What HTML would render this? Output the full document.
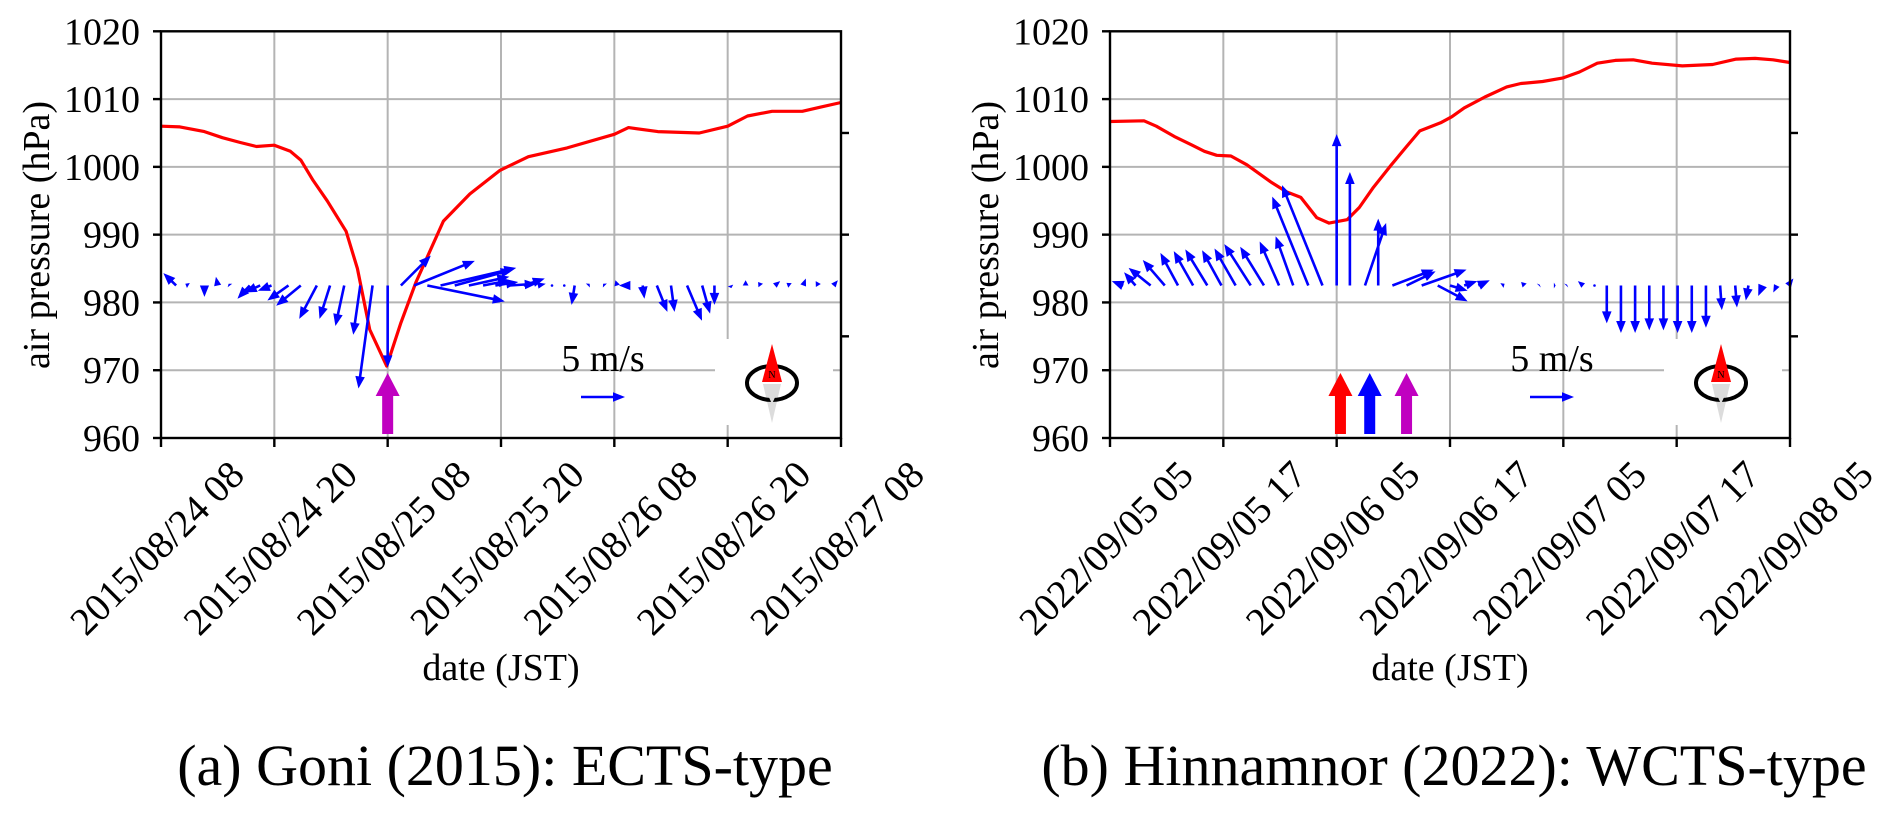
<!DOCTYPE html>
<html><head><meta charset="utf-8"><style>
html,body{margin:0;padding:0;background:#fff;}
svg{display:block;font-family:"Liberation Serif",serif;}
</style></head><body>
<svg id="fig" width="1892" height="817" viewBox="0 0 1892 817" xmlns="http://www.w3.org/2000/svg"></svg>
<script>
// ---- Chart (a) Goni 2015 ----
const aPresT=[0,2,4.6,6.5,8.4,10.1,12,13.7,14.8,16.1,17.6,19.6,20.8,22.1,23.9,25.4,27,29.9,32.7,35.9,38.9,43,48,49.5,52.6,57,60,62.1,64.7,67.9,69.8,72];
const aPresP=[1006,1005.9,1005.2,1004.3,1003.6,1003,1003.2,1002.3,1001,998,995,990.5,985,976,970.6,977,983,992,996,999.5,1001.5,1002.8,1004.8,1005.8,1005.2,1005,1006,1007.5,1008.2,1008.2,1008.8,1009.5];
const aWindT=[1.6,2.9,4.6,6.0,7.3,9.4,10.5,11.7,13.5,14.8,16.5,17.9,19.4,21.1,22.4,24.0,25.4,26.8,28.2,29.6,31.1,32.6,34.1,35.4,36.9,38.4,39.9,41.4,42.7,43.8,45.2,47.0,48.3,49.7,51.0,52.5,54.0,55.7,57.3,58.6,60.3,61.9,63.5,65.0,66.6,68.0,69.6,71.2];
const aWindU=[-1.45,-0.35,0,-0.2,-0.15,-1.4,-1.75,-1.55,-2.4,-2.8,-2.0,-1.2,-1.0,-0.8,-1.6,0,3.4,6.9,8.8,8.6,6.6,4.6,3.1,2.6,3.1,2.4,0.9,0.1,0.1,-0.35,0.2,-0.2,-0.2,-1.3,0.2,1.2,0.4,1.7,0.9,0,0.1,0,-0.3,0.6,-0.4,0.3,-0.3,0.5];
const aWindV=[1.41,0.2,-1.3,1.0,0.2,-1.5,-0.8,-0.6,-1.7,-2.3,-3.8,-3.8,-4.6,-5.6,-11.7,-9.3,3.4,2.8,-1.8,2.0,1.8,1.0,0.6,0.4,0.2,0.8,0.2,0,0,-2.2,0.2,0.2,0.6,0,-1.5,-3.0,-3.0,-4.0,-3.2,-2.2,-0.3,0.6,0.4,0.5,0.3,0.8,0.5,0.6];
const aTickLabels=["2015/08/24 08","2015/08/24 20","2015/08/25 08","2015/08/25 20","2015/08/26 08","2015/08/26 20","2015/08/27 08"];
const aEventT=[24.0];
const aEventC=["#c000c0"];
// ---- Chart (b) Hinnamnor 2022 ----
const bPresT=[0,3.6,4.9,6.8,8.7,10,11.3,12.8,14.5,17.0,18.7,20.2,21.9,23.2,25.1,26.4,27.9,29.8,31.4,32.8,35.0,36.2,37.5,39.7,42.0,43.5,45.8,47.9,49.7,51.6,53.5,55.4,57.4,60.6,63.8,66.3,68.3,70.2,72];
const bPresP=[1006.7,1006.8,1006,1004.5,1003.2,1002.3,1001.7,1001.6,1000.3,997.8,996.3,995.5,992.5,991.7,992.2,994,997,1000.3,1003,1005.3,1006.5,1007.4,1008.7,1010.3,1011.8,1012.3,1012.6,1013.1,1014,1015.3,1015.7,1015.8,1015.3,1014.9,1015.1,1015.9,1016.0,1015.8,1015.4];
const bWindT=[1.4,2.7,4.3,5.8,7.2,8.8,10.3,11.8,13.3,14.9,16.3,17.9,19.4,21.0,22.5,24.0,25.4,27.0,28.4,29.9,31.4,33.0,34.7,36.0,37.5,39.0,41.5,43.9,45.4,47.0,48.3,50.1,51.3,52.6,54.1,55.6,57.1,58.6,60.1,61.6,63.1,64.6,66.2,67.6,69.1,70.6,71.8];
const bWindU=[-1.3,-1.3,-2.5,-2.5,-2.0,-2.2,-2.5,-2.2,-2.4,-3.0,-2.7,-2.2,-2.0,-4.1,-4.6,0,0,2.4,0,4.7,3.3,5.1,3.4,2.0,1.5,1.3,0.3,-0.4,0.1,0.2,0.1,-0.6,0.1,0,0,0,0,0,0,0,0,0.2,0.2,-0.3,-0.5,-0.4,0.6];
const bWindV=[0.5,1.5,2.0,2.9,3.7,3.9,4.1,4.0,4.2,4.7,4.4,5.0,5.6,10.1,11.4,17.2,12.9,7.1,7.6,1.8,1.6,1.8,-1.8,-0.6,0.5,0.6,0.2,0.4,0.1,0,0.1,0.5,0,-4.3,-5.4,-5.4,-5.1,-5.1,-5.4,-5.4,-4.8,-2.8,-2.5,-1.7,-1.2,-0.8,0.8];
const bTickLabels=["2022/09/05 05","2022/09/05 17","2022/09/06 05","2022/09/06 17","2022/09/07 05","2022/09/07 17","2022/09/08 05"];
const bEventT=[24.4,27.5,31.4];
const bEventC=["#ff0000","#0000ff","#c000c0"];
const yTicks=[960,970,980,990,1000,1010,1020];

const NS="http://www.w3.org/2000/svg";
const svg=document.getElementById('fig');
function mk(tag,attrs,parent){const e=document.createElementNS(NS,tag);for(const k in attrs)e.setAttribute(k,attrs[k]);(parent||svg).appendChild(e);return e;}

function drawChart(o){
  const g=mk('g',{});
  
  
  const X0=o.x0,X1=o.x0+680,Y0=31.3,Y1=438;
  const xs=t=>X0+t*(X1-X0)/72;
  const ys=p=>Y1-(p-960)*(Y1-Y0)/60;
  const PX=8.8; // px per m/s
  for(let i=1;i<6;i++){const l=mk('line',{x1:xs(i*12),x2:xs(i*12),y1:Y0,y2:Y1,stroke:'#b4b4b4','stroke-width':2},g);}
  for(let i=1;i<6;i++){const l=mk('line',{x1:X0,x2:X1,y1:ys(yTicks[i]),y2:ys(yTicks[i]),stroke:'#b4b4b4','stroke-width':2},g);}
  const wb=mk('rect',{x:X0+554,y:339,width:118,height:86,fill:'#fff'},g);
  
  let d='';for(let i=0;i<o.pt.length;i++){d+=(i?'L':'M')+xs(o.pt[i]).toFixed(1)+','+ys(o.pp[i]).toFixed(1);}
  const pl=mk('path',{d:d,fill:'none',stroke:'#ff0000','stroke-width':3.2,'stroke-linejoin':'round'},g);
  
  const by=ys(982.5);
  for(let i=0;i<o.wt.length;i++){
    const a=arrow(xs(o.wt[i]),by,o.wu[i]*PX,-o.wv[i]*PX,'#0000ff',g);
    
    
  }
  const sa=arrow(X0+420,397,5*PX,0,'#0000ff',g);
  
  
  const st=mk('text',{x:X0+442,y:371,'font-size':38,'text-anchor':'middle'},g);st.textContent='5 m/s';
  
  for(let i=0;i<o.et.length;i++){
    const x=xs(o.et[i]);
    const p=mk('polygon',{points:`${x-5.5},434 ${x+5.5},434 ${x+5.5},396 ${x+12},396 ${x},373 ${x-12},396 ${x-5.5},396`,fill:o.ec[i]},g);
    
    
  }
  const cx=X0+611,cy=383;
  const cg=mk('g',{},g);
  mk('polygon',{points:`${cx-9},384 ${cx+9},384 ${cx},423`,fill:'#dcdcdc'},cg);
  mk('ellipse',{cx:cx,cy:cy,rx:25,ry:17,fill:'none',stroke:'#000','stroke-width':4},cg);
  mk('polygon',{points:`${cx-10},382 ${cx+10},382 ${cx},344`,fill:'#ff0000'},cg);
  mk('polygon',{points:`${cx-9},384 ${cx+9},384 ${cx},404`,fill:'#dcdcdc'},cg);
  const nt=mk('text',{x:cx,y:378,'font-size':10,'text-anchor':'middle'},cg);nt.textContent='N';
  const fr=mk('rect',{x:X0,y:Y0,width:X1-X0,height:Y1-Y0,fill:'none',stroke:'#000','stroke-width':2.4},g);
  
  yTicks.forEach(v=>{
    mk('line',{x1:X0-8,x2:X0,y1:ys(v),y2:ys(v),stroke:'#000','stroke-width':2.4},g);
    const t=mk('text',{x:X0-21,y:ys(v)+13,'font-size':38,'text-anchor':'end'},g);t.textContent=v;
    
  });
  [975,990,1005].forEach(v=>mk('line',{x1:X1,x2:X1+8,y1:ys(v),y2:ys(v),stroke:'#000','stroke-width':2.4},g));
  for(let i=0;i<7;i++){
    const x=xs(i*12);
    mk('line',{x1:x,x2:x,y1:Y1,y2:Y1+9,stroke:'#000','stroke-width':2.4},g);
    const t=mk('text',{x:0,y:0,'font-size':39,'text-anchor':'middle',transform:`translate(${x-4},${548}) rotate(-45) translate(0,13)`},g);
    t.textContent=o.tl[i];
    
  }
  const yl=mk('text',{x:0,y:0,'font-size':38,'text-anchor':'middle',transform:`translate(${X0-125},235) rotate(-90) translate(0,13)`},g);
  yl.textContent='air pressure (hPa)';
  const xl=mk('text',{x:X0+340,y:680,'font-size':38,'text-anchor':'middle'},g);
  xl.textContent='date (JST)';
  const cp=mk('text',{x:X0+344,y:785,'font-size':58,'text-anchor':'middle'},g);
  cp.textContent=o.caption;
}
function arrow(x,y,dx,dy,col,parent){
  const g=mk('g',{},parent);
  const L=Math.hypot(dx,dy);
  if(L<1.2){mk('circle',{cx:x,cy:y,r:1.3,fill:col},g);return g;}
  const ux=dx/L,uy=dy/L,nx=-uy,ny=ux;
  const hl=Math.min(12,L),hw=4.8*Math.max(hl/12,0.6);
  const bx=x+dx-ux*hl,byy=y+dy-uy*hl;
  if(L>hl)mk('line',{x1:x,y1:y,x2:bx+ux*2,y2:byy+uy*2,stroke:col,'stroke-width':2.6},g);
  mk('polygon',{points:`${x+dx},${y+dy} ${bx+nx*hw},${byy+ny*hw} ${bx-nx*hw},${byy-ny*hw}`,fill:col},g);
  return g;
}
drawChart({name:'chart-goni',x0:161,pt:aPresT,pp:aPresP,wt:aWindT,wu:aWindU,wv:aWindV,tl:aTickLabels,et:aEventT,ec:aEventC,caption:'(a) Goni (2015): ECTS-type'});
drawChart({name:'chart-hinnamnor',x0:1110,pt:bPresT,pp:bPresP,wt:bWindT,wu:bWindU,wv:bWindV,tl:bTickLabels,et:bEventT,ec:bEventC,caption:'(b) Hinnamnor (2022): WCTS-type'});
</script>
</body></html>
